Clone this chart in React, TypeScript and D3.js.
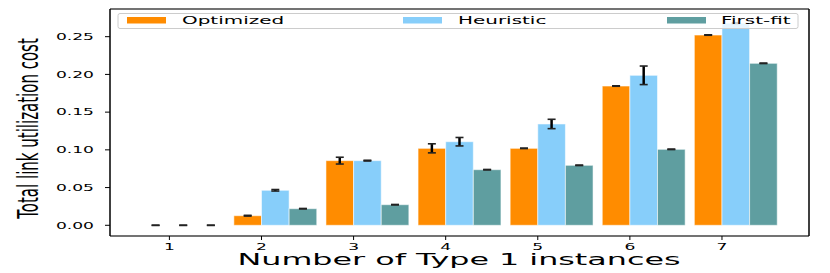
import React from "react";
import * as d3 from "d3";

const categories = [1, 2, 3, 4, 5, 6, 7];
const seriesNames = ["Optimized", "Heuristic", "First-fit"];
const optimized = [0.0, 0.0127, 0.0857, 0.102, 0.102, 0.1846, 0.2522];
const optimizedErr = [0.0002, 0.0005, 0.0045, 0.006, 0.0003, 0.0003, 0.0003];
const heuristic = [0.0, 0.0464, 0.0857, 0.1108, 0.1343, 0.1988, 0.268];
const heuristicErr = [0.0002, 0.001, 0.0005, 0.0056, 0.0062, 0.0123, 0.0005];
const firstFit = [0.0, 0.022, 0.0273, 0.0737, 0.0795, 0.1007, 0.2147];
const firstFitErr = [0.0002, 0.0003, 0.0003, 0.0003, 0.0003, 0.0003, 0.0003];
const yTicks = [0.0, 0.05, 0.1, 0.15, 0.2, 0.25];
const colors = ["#FF8C00", "#87CEFA", "#5F9EA0"];

const W = 830;
const H = 273;
const L = 110, R = 809, T = 9, B = 236;
const S = 1.9; // horizontal stretch of text
const FONT = "DejaVu Sans";

export default function App() {
  const x = d3.scaleLinear().domain([0.355, 7.945]).range([L, R]);
  const y = d3.scaleLinear().domain([-0.0142, 0.2867]).range([B, T]);
  const bw = 0.3;
  const series = [
    { name: seriesNames[0], vals: optimized, errs: optimizedErr, off: -bw },
    { name: seriesNames[1], vals: heuristic, errs: heuristicErr, off: 0 },
    { name: seriesNames[2], vals: firstFit, errs: firstFitErr, off: bw },
  ];
  const px = x(1 + bw) - x(1);

  const legendItems = [
    { patch: 127, text: 182 },
    { patch: 403, text: 458 },
    { patch: 667, text: 721 },
  ];

  return (
    <svg width={W} height={H} style={{ position: "absolute", left: 0, top: 0, background: "white" }} fontFamily={FONT}>
      {/* bars */}
      {series.map((s, si) =>
        categories.map((c, i) => {
          const x0 = x(c + s.off);
          const y0 = y(s.vals[i]);
          return (
            <rect key={`b${si}-${i}`} x={x0} y={y0} width={px} height={Math.max(0, y(0) - y0)}
              fill={colors[si]} stroke="white" strokeOpacity={0.55} strokeWidth={1} />
          );
        })
      )}
      {/* error bars */}
      {series.map((s, si) =>
        categories.map((c, i) => {
          const cx = x(c + s.off + bw / 2);
          const yt = y(s.vals[i] + s.errs[i]);
          const yb = y(s.vals[i] - s.errs[i]);
          return (
            <g key={`e${si}-${i}`}>
              <line x1={cx} x2={cx} y1={yt} y2={yb} stroke="black" strokeWidth={2.5} />
              <line x1={cx - 4} x2={cx + 4} y1={yt} y2={yt} stroke="#222" strokeWidth={1.6} />
              <line x1={cx - 4} x2={cx + 4} y1={yb} y2={yb} stroke="#222" strokeWidth={1.6} />
            </g>
          );
        })
      )}
      {/* spines */}
      <line x1={L} x2={R} y1={T} y2={T} stroke="#444" strokeWidth={1.5} />
      <line x1={L} x2={R} y1={B} y2={B} stroke="#444" strokeWidth={1.5} />
      <line x1={L} x2={L} y1={T} y2={B} stroke="black" strokeWidth={1.5} />
      <line x1={R} x2={R} y1={T} y2={B} stroke="black" strokeWidth={1.5} />
      {/* y ticks */}
      {yTicks.map((t) => (
        <g key={`yt${t}`}>
          <line x1={L - 5} x2={L} y1={y(t)} y2={y(t)} stroke="black" strokeWidth={1} />
          <text transform={`translate(${L - 16},${y(t) + 3.3}) scale(${S},1)`} fontSize={9} textAnchor="end" fill="black">
            {t.toFixed(2)}
          </text>
        </g>
      ))}
      {/* x ticks */}
      {categories.map((c) => (
        <g key={`xt${c}`}>
          <line x1={x(c)} x2={x(c)} y1={B} y2={B + 4} stroke="black" strokeWidth={1} />
          <text transform={`translate(${x(c)},${B + 13.5}) scale(${S},1)`} fontSize={9} textAnchor="middle" fill="black">
            {c}
          </text>
        </g>
      ))}
      {/* axis labels */}
      <text transform={`translate(459,265) scale(1.95,1)`} fontSize={16.3} textAnchor="middle" fill="black">
        Number of Type 1 instances
      </text>
      <text transform={`translate(38,128.5) scale(${S},1) rotate(-90)`} fontSize={15} textAnchor="middle" fill="black">
        Total link utilization cost
      </text>
      {/* legend */}
      <rect x={118} y={13.5} width={680} height={15} rx={2} fill="white" fillOpacity={0.8} stroke="#cccccc" strokeWidth={1} />
      {legendItems.map((it, i) => (
        <g key={`lg${i}`}>
          <rect x={it.patch} y={17} width={39} height={6.5} fill={colors[i]} />
          <text transform={`translate(${it.text},24) scale(${S},1)`} fontSize={10.5} fill="black">
            {seriesNames[i]}
          </text>
        </g>
      ))}
    </svg>
  );
}
